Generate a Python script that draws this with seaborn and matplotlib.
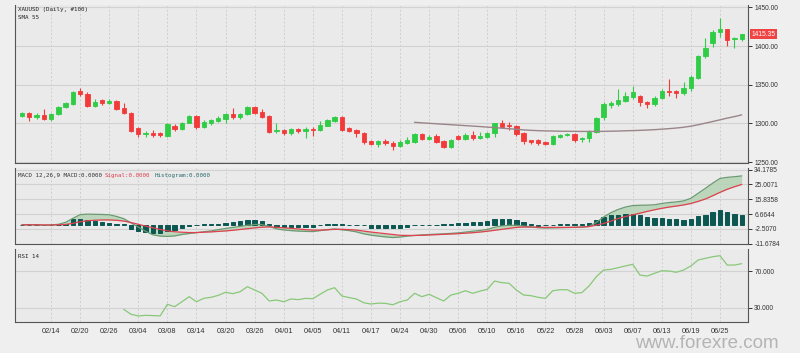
import numpy as np
import matplotlib
matplotlib.use('Agg')
import matplotlib.pyplot as plt
import matplotlib.transforms as mtrans
import seaborn as sns

# ---- data ----
date_labels = ['02/14', '02/20', '02/26', '03/04', '03/08', '03/14', '03/20', '03/26',
               '04/01', '04/05', '04/11', '04/17', '04/24', '04/30', '05/06', '05/10',
               '05/16', '05/22', '05/28', '06/03', '06/07', '06/13', '06/19', '06/25']
date_bars = [4, 8, 12, 16, 20, 24, 28, 32, 36, 40, 44, 48, 52, 56, 60, 64, 68, 72, 76, 80,
             84, 88, 92, 96]

opens = [1309.6, 1313.8, 1308, 1311, 1305.3, 1311.9, 1320.8, 1325.5, 1341.5, 1337.6,
         1322.9, 1330, 1326.7, 1328.5, 1320, 1313, 1293.7, 1286, 1288, 1287,
         1284.3, 1297, 1292.8, 1301, 1309.6, 1295, 1301, 1303.5, 1306, 1312.5,
         1308, 1312, 1321.6, 1315, 1310, 1290, 1292, 1287, 1293, 1289.8,
         1293, 1292, 1297, 1303.5, 1308.7, 1293.7, 1291.5, 1288, 1277.3, 1274,
         1277.5, 1275, 1271, 1275, 1276.4, 1286, 1279.5, 1283.7, 1277, 1270,
         1283.7, 1279.5, 1285, 1281, 1282.8, 1287.2, 1300, 1298, 1296.7, 1287,
         1278, 1278.6, 1276.4, 1273.4, 1282.8, 1285, 1286, 1279.5, 1280.8, 1289.3,
         1307.9, 1323.8, 1325, 1329.3, 1334.5, 1335.4, 1328, 1325.5, 1333.2, 1342.3,
         1341.9, 1339, 1345.4, 1359, 1387.5, 1403.5, 1418.5, 1422, 1408.6, 1408.6]
highs = [1315, 1315, 1314, 1318.6, 1314, 1322, 1328, 1342, 1345.4, 1340,
         1332, 1332, 1331, 1330, 1326, 1315, 1295, 1290, 1291, 1289,
         1300, 1299, 1302, 1311, 1311, 1304, 1306, 1309, 1314, 1319.5,
         1314, 1323, 1323, 1318, 1311, 1300, 1293, 1294, 1294.5, 1295,
         1295, 1303, 1306, 1310, 1310, 1295, 1293, 1289, 1279, 1279,
         1280, 1277, 1278, 1282.8, 1288, 1287, 1285, 1286, 1279, 1280,
         1285, 1287, 1290, 1289, 1289, 1301, 1304, 1302, 1298, 1289,
         1279, 1279.5, 1277, 1285, 1286, 1288, 1288, 1283, 1291, 1308,
         1327, 1329, 1344.4, 1340.2, 1348.3, 1337.3, 1329, 1336, 1344, 1357.4,
         1343, 1354, 1362, 1389, 1410, 1420.7, 1436.6, 1422.5, 1412, 1416]
lows = [1308, 1303.5, 1306, 1304, 1302.7, 1311, 1320, 1324, 1336, 1321,
        1321, 1324, 1325, 1317, 1312, 1289, 1282.8, 1283, 1283, 1282,
        1283, 1290.5, 1291, 1300, 1293, 1294, 1298, 1302, 1301, 1306,
        1306, 1311, 1312, 1307, 1288, 1288, 1285, 1285, 1288, 1281.5,
        1283.5, 1290, 1296, 1302, 1290, 1289, 1283, 1274, 1272, 1269.6,
        1272, 1265.6, 1269, 1273, 1275, 1278, 1278, 1275, 1268, 1268,
        1278, 1278, 1279, 1280, 1281, 1283, 1294, 1291, 1284, 1274,
        1274, 1272, 1272, 1272, 1281, 1284, 1276, 1276, 1275.6, 1288,
        1305, 1320, 1323, 1327, 1331, 1323, 1319.5, 1323, 1331, 1336,
        1333, 1337, 1342, 1358, 1385, 1399, 1412, 1400.4, 1398, 1407]
closes = [1313.8, 1307.9, 1311, 1305.7, 1312.5, 1320.8, 1326.7, 1341, 1337.6, 1322.5,
          1328, 1326.7, 1329, 1318.6, 1313, 1290, 1286.3, 1288, 1285.4, 1285.5,
          1299.1, 1292.8, 1301, 1309.6, 1295, 1301.8, 1304.4, 1307.4, 1312, 1308.7,
          1312.5, 1321.6, 1313.9, 1308.7, 1289.3, 1292, 1287, 1292.5, 1289.8, 1293,
          1291.5, 1298.3, 1304.4, 1308.7, 1291.5, 1290, 1287.2, 1276.4, 1274, 1277,
          1274.5, 1271, 1276.4, 1278.6, 1286, 1279.5, 1282.8, 1276.4, 1270, 1278.5,
          1279.5, 1285, 1280.8, 1283.5, 1287.2, 1300, 1295.8, 1296.5, 1286, 1277.3,
          1276, 1275, 1274, 1283.7, 1285, 1286, 1278.6, 1280.8, 1289.3, 1306.6,
          1324.7, 1326, 1330, 1335.4, 1341, 1327.3, 1325.5, 1333.2, 1341.9, 1340.6,
          1339.7, 1346.3, 1360.4, 1387.5, 1397.8, 1418.5, 1422, 1407.8, 1410, 1415.35]

sma_start = 54
sma55 = [1301.4, 1300.7, 1300.1, 1299.5, 1298.9, 1298.3, 1297.7, 1297.1, 1296.5, 1295.9,
         1295.2, 1294.5, 1293.8, 1293.1, 1292.4, 1291.6, 1291.0, 1290.6, 1290.3, 1290.1,
         1289.9, 1289.8, 1289.7, 1289.6, 1289.6, 1289.6, 1289.7, 1289.9, 1290.1, 1290.4,
         1290.7, 1291.0, 1291.4, 1291.9, 1292.5, 1293.2, 1294.0, 1295.0, 1296.4, 1298.2,
         1300.3, 1302.4, 1304.6, 1306.8, 1308.8, 1311.0]

macd = [0.0, 0.1, 0.0, -0.2, -0.1, 0.3, 1.5, 4.0, 6.3, 6.6,
        6.5, 6.4, 6.2, 5.2, 3.8, 1.2, -1.5, -4.0, -6.2, -7.0,
        -7.2, -6.9, -6.0, -5.4, -4.9, -4.3, -3.8, -3.0, -2.3, -1.6,
        -1.0, -0.3, 0.2, 0.1, -1.0, -2.5, -3.2, -3.6, -3.9, -4.1,
        -4.2, -3.6, -3.0, -2.6, -3.1, -3.6, -4.4, -5.6, -6.4, -7.0,
        -7.5, -7.9, -7.6, -7.0, -6.6, -6.3, -6.0, -5.8, -5.6, -5.3,
        -5.0, -4.5, -4.0, -3.5, -2.9, -1.5, -0.7, -0.3, -0.3, -0.8,
        -1.3, -1.8, -2.0, -1.9, -1.8, -1.7, -1.6, -1.5, -1.0, 1.5,
        4.8, 7.5, 9.5, 11.0, 11.9, 12.1, 12.2, 12.4, 13.2, 13.8,
        14.2, 14.8, 16.4, 19.5, 22.6, 25.8, 28.7, 29.4, 29.8, 30.3]
signal = [0.0, 0.0, 0.0, -0.1, -0.1, 0.0, 0.2, 0.9, 1.9, 2.5,
          2.8, 3.0, 3.0, 2.8, 2.3, 1.4, 0.3, -0.8, -1.8, -2.9,
          -3.7, -4.3, -4.6, -4.8, -4.8, -4.6, -4.4, -4.1, -3.8, -3.4,
          -2.9, -2.4, -1.9, -1.5, -1.3, -1.5, -1.9, -2.2, -2.6, -3.0,
          -3.3, -3.3, -3.1, -2.8, -2.8, -3.0, -3.3, -3.9, -4.5, -5.0,
          -5.5, -6.0, -6.5, -6.6, -6.6, -6.5, -6.3, -6.1, -5.9, -5.7,
          -5.5, -5.2, -4.9, -4.5, -4.0, -3.4, -2.8, -2.2, -1.6, -1.4,
          -1.4, -1.5, -1.6, -1.6, -1.6, -1.6, -1.5, -1.4, -1.1, -0.2,
          0.8, 2.3, 3.9, 5.1, 6.2, 7.2, 8.3, 9.3, 10.2, 11.0,
          11.6, 12.3, 13.2, 14.5, 16.0, 18.0, 20.1, 22.0, 23.6, 25.0]
hist = [0.0, 0.0, 0.0, 0.0, 0.0, 0.0, 0.5, 3.5, 3.9, 2.9,
        2.4, 1.8, 1.4, 0.4, 0.3, -2.6, -3.7, -4.3, -5.1, -5.3,
        -3.7, -3.3, -2.0, -0.8, -0.3, 0.2, 0.3, 0.4, 1.4, 1.8,
        2.4, 2.9, 3.1, 2.4, 0.2, -1.6, -1.6, -1.6, -1.6, -1.6,
        -1.6, -0.3, 0.2, 0.8, 0.2, -0.2, -0.3, -0.4, -2.0, -2.0,
        -2.0, -2.0, -2.0, -1.6, -0.3, -0.3, -0.2, -0.2, 0.2, 0.2,
        1.2, 1.2, 1.8, 1.8, 2.2, 3.3, 3.3, 3.3, 2.7, 1.6,
        0.3, -0.5, -0.3, -0.2, 0.2, 0.2, 0.3, 0.3, 1.2, 2.7,
        4.7, 5.9, 6.3, 6.7, 6.7, 5.9, 4.9, 4.3, 4.3, 3.9,
        3.3, 2.9, 3.9, 5.3, 6.3, 8.0, 9.4, 8.0, 6.7, 5.9]

rsi_start = 14
rsi = [28.2, 22.8, 21.0, 21.7, 21.4, 21.0, 33.7, 31.1, 36.5, 42.0,
       36.5, 40.2, 41.3, 43.5, 46.8, 45.3, 47.4, 52.9, 49.3, 45.7,
       37.3, 38.4, 36.5, 39.5, 38.8, 40.2, 39.8, 44.6, 49.3, 51.8,
       42.8, 41.0, 39.5, 35.4, 34.0, 35.0, 34.7, 33.2, 36.5, 38.4,
       45.7, 42.0, 44.6, 40.9, 37.3, 43.8, 45.7, 48.5, 45.7, 48.1,
       50.0, 59.1, 57.3, 56.6, 49.3, 43.8, 43.1, 41.3, 40.2, 48.5,
       49.6, 49.6, 45.7, 46.4, 53.7, 63.8, 71.1, 71.8, 73.6, 75.5,
       77.3, 65.6, 64.5, 67.5, 70.3, 70.0, 68.6, 71.1, 75.5, 82.0,
       83.8, 85.6, 86.7, 76.5, 76.5, 78.0]

price_ticks = [1250, 1300, 1350, 1400, 1450]
macd_ticks = [34.1785, 25.0071, 15.8358, 6.6644, -2.5070, -11.6784]
rsi_ticks = [70, 30]

# ---- style ----
sns.set_style('white')
plt.rcParams['font.family'] = ['Liberation Sans', 'DejaVu Sans']

GREEN = '#2fcc45'
RED = '#f23a3a'
TICKC = '#333333'
MONO = 'DejaVu Sans Mono'
LBL = 4.2

fig = plt.figure(figsize=(8, 3.53), dpi=100, facecolor='#efefef')
L, W = 15 / 800, 733 / 800
ax1 = fig.add_axes([L, 1 - 163 / 353, W, 158 / 353])
ax2 = fig.add_axes([L, 1 - 244 / 353, W, 76 / 353])
ax3 = fig.add_axes([L, 1 - 322 / 353, W, 73 / 353])


def style(ax, ylim, ticks, labels, show_dates=False):
    ax.set_facecolor('#eaeaea')
    ax.set_xlim(-0.96, 99.86)
    ax.set_ylim(*ylim)
    ax.set_xticks(date_bars)
    ax.set_xticklabels(date_labels if show_dates else [])
    ax.yaxis.tick_right()
    ax.set_yticks(ticks)
    ax.set_yticklabels(labels)
    ax.tick_params(axis='y', direction='out', length=3, width=0.7, labelsize=4.8,
                   colors=TICKC, pad=1.5)
    ax.tick_params(axis='x', direction='out', length=3, width=0.7, labelsize=5.3,
                   colors=TICKC, pad=1.5)
    ax.grid(axis='y', color='#d2d2d2', linewidth=0.8)
    ax.grid(axis='x', color='#cfcfcf', linewidth=0.7, linestyle=(0, (2, 2)))
    ax.set_axisbelow(True)
    ax.spines['top'].set_visible(False)
    for s in ['left', 'bottom', 'right']:
        ax.spines[s].set_visible(True)
        ax.spines[s].set_color('#555555')
        ax.spines[s].set_linewidth(0.8)
    ax.set_xlabel('')
    ax.set_ylabel('')


# ---- price panel ----
x = np.arange(len(closes))
o = np.array(opens)
c = np.array(closes)
cols = [GREEN if cc >= oo else RED for oo, cc in zip(opens, closes)]
ax1.vlines(x, lows, highs, colors=cols, linewidth=0.8, zorder=3)
ax1.bar(x, np.abs(c - o), bottom=np.minimum(o, c), width=0.6, color=cols,
        edgecolor=cols, linewidth=0.6, zorder=4)
sns.lineplot(x=np.arange(sma_start, sma_start + len(sma55)), y=sma55, ax=ax1,
             color='#9a8589', linewidth=1.0, zorder=5)
style(ax1, (1248.8, 1453), price_ticks, ['%.2f' % t for t in price_ticks])
tr = mtrans.blended_transform_factory(ax1.transAxes, ax1.transData)
ax1.text(1.005, closes[-1], '%.2f' % closes[-1], transform=tr, fontsize=4.8,
         color='white', va='center', ha='left',
         bbox=dict(facecolor='#f04444', edgecolor='none', pad=1.2))
fig.text(18 / 800, 1 - 9 / 353, 'XAUUSD (Daily, #100)', fontsize=LBL, color='#222222',
         va='center', family=MONO)
fig.text(18 / 800, 1 - 17.5 / 353, 'SMA 55', fontsize=LBL, color='#222222',
         va='center', family=MONO)

# ---- MACD panel ----
ax2.bar(x, hist, width=0.6, color='#0c5752', edgecolor='#0c5752', linewidth=0.7, zorder=3)
ax2.fill_between(x, macd, signal, color='#b3d3b3', alpha=0.85, zorder=2, linewidth=0)
sns.lineplot(x=x, y=macd, ax=ax2, color='#6b9a72', linewidth=0.9, zorder=4)
sns.lineplot(x=x, y=signal, ax=ax2, color='#e0404f', linewidth=0.9, zorder=4)
style(ax2, (-11.9, 35.2), macd_ticks, ['%.4f' % t for t in macd_ticks])
ymacd = 1 - 175 / 353
fig.text(18 / 800, ymacd, 'MACD 12,26,9 MACD:0.0000', fontsize=LBL, color='#333333',
         va='center', family=MONO)
fig.text(105 / 800, ymacd, 'Signal:0.0000', fontsize=LBL, color='#e0404f',
         va='center', family=MONO)
fig.text(155 / 800, ymacd, 'Histogram:0.0000', fontsize=LBL, color='#2a6a6a',
         va='center', family=MONO)

# ---- RSI panel ----
sns.lineplot(x=np.arange(rsi_start, rsi_start + len(rsi)), y=rsi, ax=ax3,
             color='#88c878', linewidth=0.9, zorder=4)
style(ax3, (14.4, 94), rsi_ticks, ['%.3f' % t for t in rsi_ticks], show_dates=True)
fig.text(18 / 800, 1 - 256 / 353, 'RSI 14', fontsize=LBL, color='#222222',
         va='center', family=MONO)

fig.text(707 / 800, 1 - 344 / 353, 'www.forexre.com', fontsize=13.5, color='#b4b4b4',
         ha='center', va='center')

fig.savefig('out.png', dpi=100, facecolor=fig.get_facecolor())
